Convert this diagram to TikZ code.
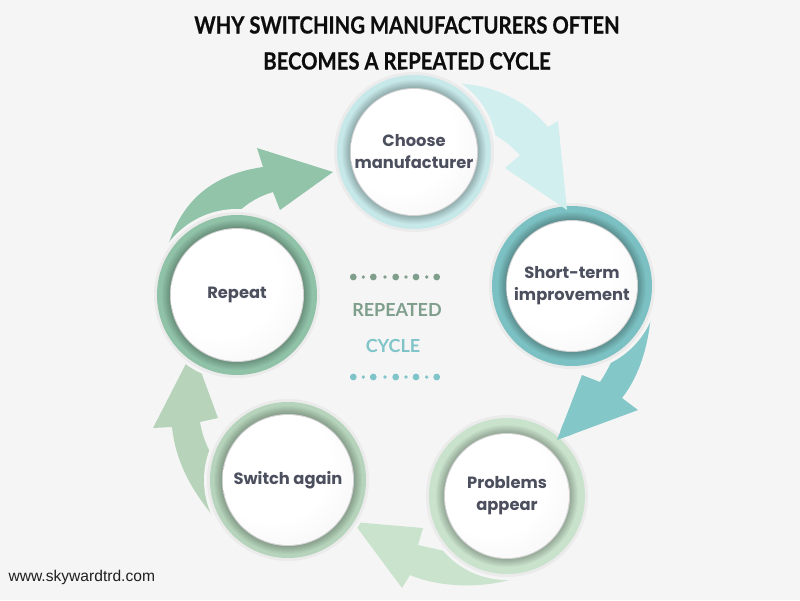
\documentclass[tikz,border=0pt]{standalone}
\usepackage{fontspec}
\setmainfont{Liberation Sans}
\newfontfamily\titlefont[FakeStretch=0.86,FakeBold=0.6]{Lato}
\newfontfamily\nodefont{Poppins}
\newfontfamily\midfont{Lato}
\newfontfamily\webfont{Liberation Sans}

\definecolor{bg}{HTML}{F5F5F5}
\definecolor{txt}{HTML}{4B4F5E}
\definecolor{arrA}{HTML}{D2EFEF}
\definecolor{ringA}{HTML}{C6E8E9}
\definecolor{arrB}{HTML}{84C7C9}
\definecolor{ringB}{HTML}{7BC0C2}
\definecolor{arrC}{HTML}{C9E3CD}
\definecolor{ringC}{HTML}{C8E2CB}
\definecolor{arrD}{HTML}{B7D4BB}
\definecolor{ringD}{HTML}{B6D4BB}
\definecolor{arrE}{HTML}{92C4A9}
\definecolor{ringE}{HTML}{8FC2A7}
\definecolor{midgreen}{HTML}{7F9F8C}
\definecolor{midteal}{HTML}{7EC4C8}

\pgfdeclareradialshading{discshade}{\pgfpoint{-10bp}{10bp}}{color(0bp)=(white); color(22bp)=(white); color(60bp)=(black!10)}

\tikzset{
  ringtxt/.style={font=\nodefont\bfseries\fontsize{16.3}{22}\selectfont, text=txt, align=center},
  titletxt/.style={font=\titlefont\bfseries\fontsize{23.6}{27}\selectfont, text=black!95},
  midtxt/.style={font=\midfont\bfseries\fontsize{18}{22}\selectfont},
  webtxt/.style={font=\webfont\fontsize{15.6}{18}\selectfont, text=black!88, anchor=west},
}

% #1 name, #2 x, #3 y, #4 outer radius, #5 white radius, #6 ring colour, #7 text
\newcommand\cycnode[7]{%
  \fill[black!4] (#2,#3) circle ({#4+6});
  \fill[black!8] (#2,#3) circle ({#4+3});
  \fill[#6] (#2,#3) circle (#4);
  \foreach \kk [evaluate=\kk as \pp using {int(100-3*\kk)}, evaluate=\kk as \rr using {#5+10-\kk}] in {1,...,8}
    {\fill[#6!\pp!black] (#2,#3) circle (\rr);}
  \fill[black!18] (#2,#3) circle ({#5+1});
  \shade[shading=discshade] (#2,#3) circle (#5);
  \node[ringtxt] (#1) at (#2,#3) {#7};
}
\newcommand\arrowA{(420,90) .. controls (470,72) and (522,95) .. (548,127) -- (558,121) -- (567,210) -- (505,168) -- (520,155)
  .. controls (510,145) and (498,133) .. (470,125) -- cycle}
\newcommand\arrowB{(652,290) .. controls (652,340) and (640,375) .. (622,398) -- (638,410) -- (557,440) -- (582,375) -- (600,382)
  .. controls (615,360) and (630,320) .. (628,290) -- cycle}

\begin{document}
\begin{tikzpicture}[x=1pt,y=-1pt]
\fill[bg] (0,0) rectangle (800,600);
\useasboundingbox (0,0) rectangle (800,600);

% title
\node[titletxt] (t1) at (407,25) {WHY SWITCHING MANUFACTURERS OFTEN};
\node[titletxt] (t2) at (407,61) {BECOMES A REPEATED CYCLE};

% arrows (drawn below the rings)
\fill[arrA] \arrowA;
\fill[arrB] \arrowB;
% Problems -> Switch again
\fill[arrC] (555,555) .. controls (520,590) and (450,592) .. (410,575) -- (402,588) -- (353,522) -- (423,528) -- (418,545)
  .. controls (440,550) and (465,556) .. (490,558) -- cycle;
% Switch again -> Repeat
\fill[arrD] (235,540) .. controls (195,500) and (176,465) .. (172,427) -- (153,428) -- (193,350) -- (218,418) -- (200,422)
  .. controls (203,440) and (210,455) .. (222,470) -- cycle;
% Repeat -> Choose
\fill[arrE] (160,290) .. controls (166,215) and (200,176) .. (263,167) -- (257,148) -- (333,172) -- (280,210) -- (273,192)
  .. controls (260,196) and (248,202) .. (235,215) -- cycle;

% rings
\cycnode{choose}{414}{152}{77}{63}{ringA}{Choose\\manufacturer}
\cycnode{short}{572}{286}{80}{65}{ringB}{Short-term\\improvement}
\cycnode{problems}{507}{496}{78}{62}{ringC}{Problems\\appear}
\cycnode{switch}{288}{480}{78}{65}{ringD}{Switch again}
\cycnode{repeat}{237}{295}{80}{66}{ringE}{Repeat}

% arrow tips lying over the next ring
\begin{scope}
  \clip (567,210) circle (16);
  \fill[arrA] \arrowA;
\end{scope}
\begin{scope}
  \clip (557,440) circle (18);
  \fill[arrB] \arrowB;
\end{scope}

% centre
\foreach \x/\r in {353.3/3.4,363.3/1.8,373.3/3.4,385/1.8,395.7/3.4,406/1.8,416/3.4,426.7/1.8,436.7/3.4}
  {\fill[midgreen] (\x,277) circle (\r);}
\foreach \x/\r in {353.3/3.4,363.3/1.8,373.3/3.4,385/1.8,395.7/3.4,406/1.8,416/3.4,426.7/1.8,436.7/3.4}
  {\fill[midteal] (\x,377) circle (\r);}
\node[midtxt, text=midgreen] (rep) at (397,310) {REPEATED};
\node[midtxt, text=midteal] (cyc) at (393,346) {CYCLE};

\node[webtxt] (web) at (5,577) {www.skywardtrd.com};
\end{tikzpicture}
\end{document}
